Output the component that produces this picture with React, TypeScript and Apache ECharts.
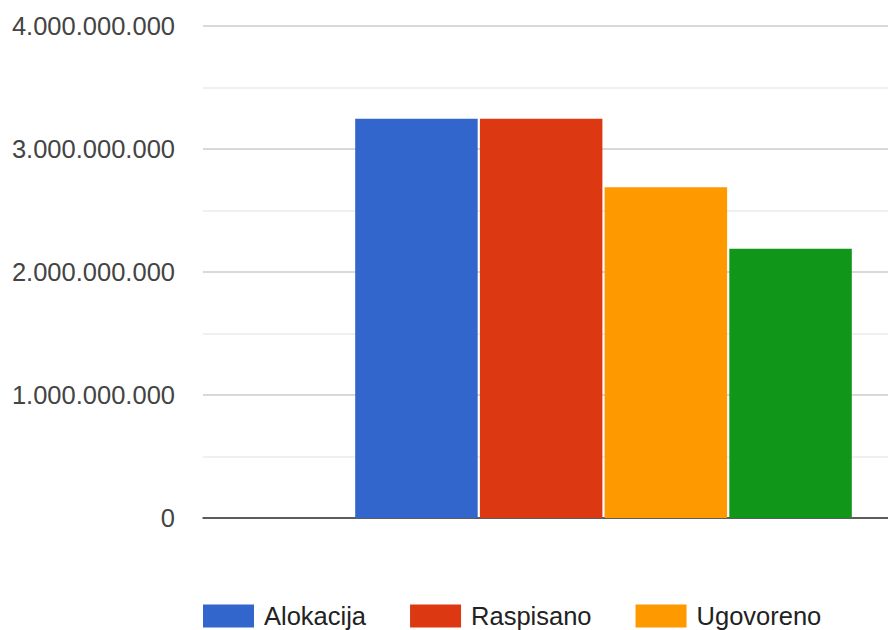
import React, { useEffect, useRef } from "react";
import * as echarts from "echarts";

const categories = [""];
const seriesNames = ["Alokacija", "Raspisano", "Ugovoreno", "Realizirano"];
const seriesValues = [[3245000000], [3245000000], [2690000000], [2190000000]];
const seriesColors = ["#3366cc", "#dc3912", "#ff9900", "#109618"];
const legendNames = ["Alokacija", "Raspisano", "Ugovoreno"];
const yMin = 0;
const yMax = 4000000000;
const yInterval = 1000000000;

function fmt(v: number): string {
  return String(Math.round(v)).replace(/\B(?=(\d{3})+(?!\d))/g, ".");
}

export default function App() {
  const ref = useRef<HTMLDivElement>(null);
  useEffect(() => {
    document.body.style.margin = "0";
    if (!ref.current) return;
    const chart = echarts.init(ref.current, undefined, { renderer: "svg" });
    chart.setOption({
      animation: false,
      backgroundColor: "#ffffff",
      textStyle: { fontFamily: "Arial, 'Liberation Sans', sans-serif" },
      grid: { left: 203, right: 6, top: 26, bottom: 112, containLabel: false },
      legend: {
        data: legendNames,
        left: 203,
        top: 603,
        padding: 0,
        itemWidth: 51,
        itemHeight: 23,
        itemGap: 44,
        icon: "rect",
        textStyle: {
          fontSize: 25.5,
          color: "#222222",
          fontFamily: "Arial, 'Liberation Sans', sans-serif",
          padding: [0, 0, 0, 5],
        },
      },
      xAxis: {
        type: "category",
        data: categories,
        axisTick: { show: false },
        axisLabel: { show: false },
        axisLine: { show: true, lineStyle: { color: "#333333", width: 1.5 } },
        splitLine: { show: false },
      },
      yAxis: {
        type: "value",
        min: yMin,
        max: yMax,
        interval: yInterval,
        axisLine: { show: false },
        axisTick: { show: false },
        axisLabel: {
          formatter: (v: number) => fmt(v),
          fontSize: 25.5,
          color: "#444444",
          margin: 28,
          fontFamily: "Arial, 'Liberation Sans', sans-serif",
        },
        splitLine: { show: true, lineStyle: { color: "#cccccc", width: 1.5 } },
        minorTick: { show: false, splitNumber: 2 },
        minorSplitLine: { show: true, lineStyle: { color: "#ebebeb", width: 1.5 } },
      },
      series: seriesNames.map((name, i) => ({
        type: "bar",
        name,
        data: seriesValues[i],
        itemStyle: { color: seriesColors[i] },
        barCategoryGap: "38%",
        barGap: "1.8%",
      })),
    });
    return () => chart.dispose();
  }, []);
  return (
    <div style={{ width: 888, height: 630, overflow: "hidden", position: "relative" }}>
      <div ref={ref} style={{ width: 1010, height: 630, position: "absolute", left: 0, top: 0 }} />
    </div>
  );
}
